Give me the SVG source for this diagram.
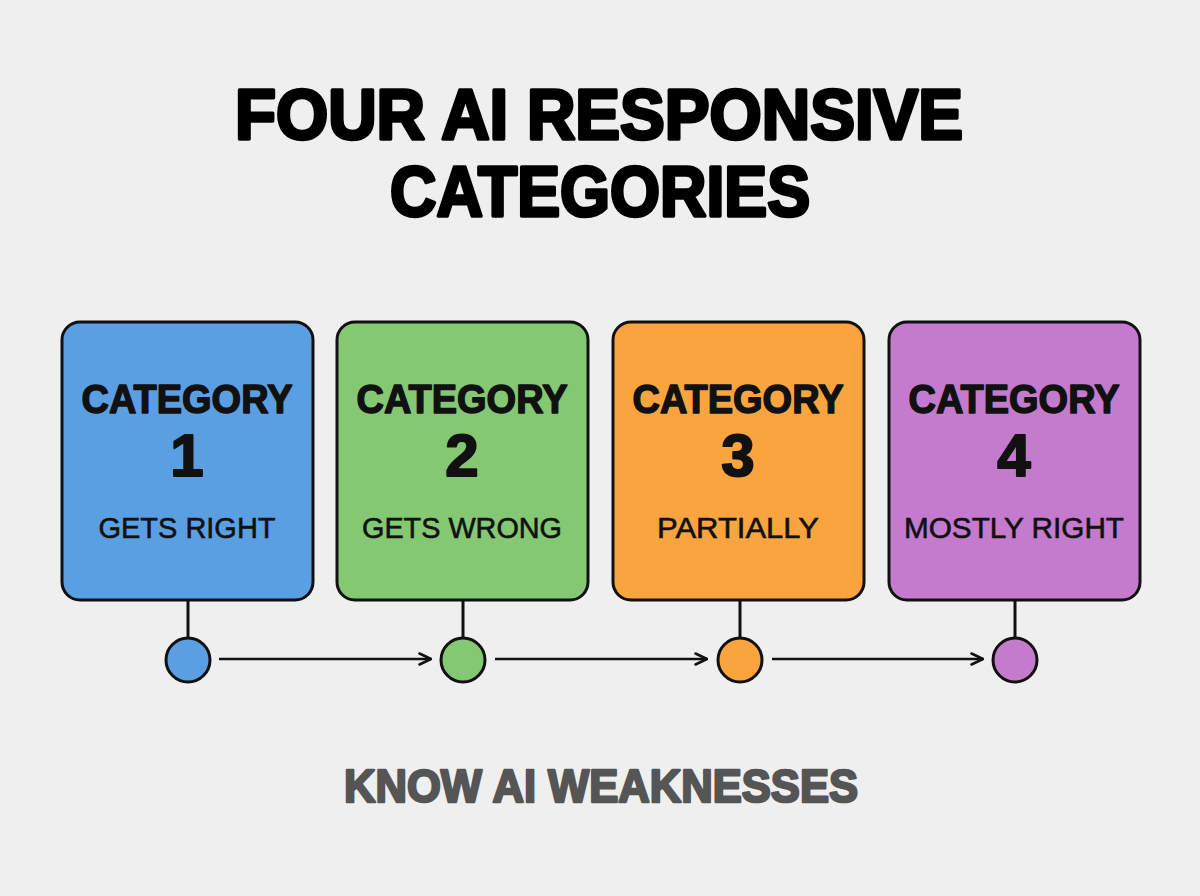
<svg xmlns="http://www.w3.org/2000/svg" width="1200" height="896" viewBox="0 0 1200 896">
<style>
.title{font-family:"Liberation Sans",Arial,sans-serif;font-weight:bold;font-size:70px;fill:#000;stroke:#000;stroke-width:3.5;stroke-linejoin:round;text-anchor:middle}
.box{stroke:#111;stroke-width:3}
.cat{font-family:"Liberation Sans",Arial,sans-serif;font-weight:bold;font-size:41px;fill:#111;stroke:#111;stroke-width:1.5;stroke-linejoin:round;text-anchor:middle}
.num{font-family:"Liberation Sans",Arial,sans-serif;font-weight:bold;font-size:60px;fill:#111;stroke:#111;stroke-width:2;stroke-linejoin:round;text-anchor:middle}
.lbl{font-family:"Liberation Sans",Arial,sans-serif;font-size:30px;fill:#111;stroke:#111;stroke-width:0.6;text-anchor:middle}
.dot{stroke:#111;stroke-width:3}
.stem{stroke:#111;stroke-width:3}
.conn{stroke:#111;stroke-width:2.5;fill:none}
.foot{font-family:"Liberation Sans",Arial,sans-serif;font-weight:bold;font-size:47px;fill:#555;stroke:#555;stroke-width:2.5;stroke-linejoin:round;text-anchor:middle}
</style>
<defs>
<marker id="arr" viewBox="0 0 14 14" refX="13" refY="7" markerWidth="14" markerHeight="14" markerUnits="userSpaceOnUse" orient="auto">
<path d="M1.5,1.5 L13,7 L1.5,12.5" fill="none" stroke="#111" stroke-width="2.5" stroke-linecap="round" stroke-linejoin="round"/>
</marker>
</defs>
<rect width="1200" height="896" fill="#EFEFEF"/>
<g id="title">
<text class="title" x="599" y="139" textLength="728" lengthAdjust="spacingAndGlyphs">FOUR AI RESPONSIVE</text>
<text class="title" x="600" y="216" textLength="420" lengthAdjust="spacingAndGlyphs">CATEGORIES</text>
</g>
<g id="node1">
<rect class="box" x="62" y="322" width="251" height="278" rx="18" fill="#5B9FE3"/>
<text class="cat" x="187" y="413" textLength="211" lengthAdjust="spacingAndGlyphs">CATEGORY</text>
<text class="num" x="187" y="476">1</text>
<text class="lbl" x="187" y="538" textLength="177" lengthAdjust="spacingAndGlyphs">GETS RIGHT</text>
<line class="stem" x1="188" y1="600" x2="188" y2="638"/>
<circle class="dot" cx="188" cy="660" r="22" fill="#5B9FE3"/>
</g>
<g id="node2">
<rect class="box" x="337" y="322" width="251" height="278" rx="18" fill="#84C873"/>
<text class="cat" x="462" y="413" textLength="211" lengthAdjust="spacingAndGlyphs">CATEGORY</text>
<text class="num" x="462" y="476">2</text>
<text class="lbl" x="462" y="538" textLength="200" lengthAdjust="spacingAndGlyphs">GETS WRONG</text>
<line class="stem" x1="463" y1="600" x2="463" y2="638"/>
<circle class="dot" cx="463" cy="660" r="22" fill="#84C873"/>
</g>
<g id="node3">
<rect class="box" x="613" y="322" width="251" height="278" rx="18" fill="#F9A43F"/>
<text class="cat" x="738" y="413" textLength="211" lengthAdjust="spacingAndGlyphs">CATEGORY</text>
<text class="num" x="738" y="476">3</text>
<text class="lbl" x="738" y="538" textLength="162" lengthAdjust="spacingAndGlyphs">PARTIALLY</text>
<line class="stem" x1="740" y1="600" x2="740" y2="638"/>
<circle class="dot" cx="740" cy="660" r="22" fill="#F9A43F"/>
</g>
<g id="node4">
<rect class="box" x="889" y="322" width="251" height="278" rx="18" fill="#C47ACD"/>
<text class="cat" x="1014" y="413" textLength="211" lengthAdjust="spacingAndGlyphs">CATEGORY</text>
<text class="num" x="1014" y="476">4</text>
<text class="lbl" x="1014" y="538" textLength="220" lengthAdjust="spacingAndGlyphs">MOSTLY RIGHT</text>
<line class="stem" x1="1015" y1="600" x2="1015" y2="638"/>
<circle class="dot" cx="1015" cy="660" r="22" fill="#C47ACD"/>
</g>
<g id="connectors">
<line class="conn" x1="219" y1="659" x2="431" y2="659" marker-end="url(#arr)"/>
<line class="conn" x1="495" y1="659" x2="707" y2="659" marker-end="url(#arr)"/>
<line class="conn" x1="772" y1="659" x2="983" y2="659" marker-end="url(#arr)"/>
</g>
<g id="footer">
<text class="foot" x="601" y="802" textLength="514" lengthAdjust="spacingAndGlyphs">KNOW AI WEAKNESSES</text>
</g>
</svg>
